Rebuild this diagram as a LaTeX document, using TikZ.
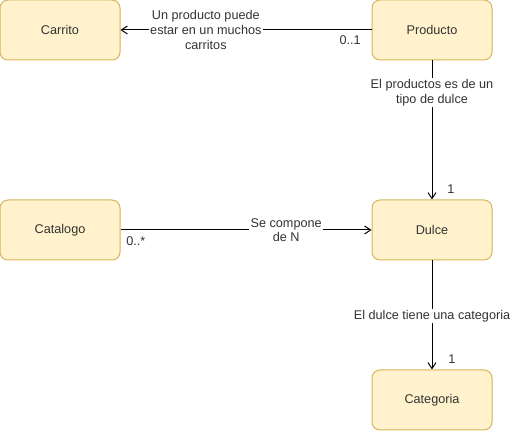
\documentclass[tikz,border=0pt]{standalone}
\usepackage{fontspec}
\setmainfont{Liberation Sans}
\usetikzlibrary{arrows.meta}
\definecolor{boxfill}{HTML}{FFF2CC}
\definecolor{boxline}{HTML}{D6B656}
\definecolor{textgray}{HTML}{333333}
\tikzset{
    entity/.style={
        draw=boxline,
        fill=boxfill,
        rounded corners=6pt,
        line width=0.75pt,
        minimum width=90pt,
        minimum height=45pt,
        inner sep=0,
        text=textgray,
        font=\fontsize{9.5}{10.9}\selectfont,
    },
    relation/.style={
        line width=0.75pt,
        -{Straight Barb[length=4.5pt,width=6pt]},
    },
    rolelabel/.style={
        fill=white,
        inner sep=1pt,
        align=center,
        text=textgray,
        font=\fontsize{9.5}{10.9}\selectfont,
    },
    multiplicity/.style={
        inner sep=0,
        text=textgray,
        font=\fontsize{9.5}{10.9}\selectfont,
    },
}
\begin{document}
\begin{tikzpicture}[x=0.75pt, y=-0.75pt]
            \useasboundingbox (0, 0) rectangle (512, 431);

            \node[entity] at (60, 30)   (carrito)   {Carrito};
            \node[entity] at (432, 30)  (producto)  {Producto};
            \node[entity] at (60, 230)  (catalogo)  {Catalogo};
            \node[entity] at (432, 230) (dulce)     {Dulce};
            \node[entity] at (432, 400) (categoria) {Categoria};

            \draw[relation] (producto) -- (carrito)
                node[rolelabel, pos=0.66] {Un producto puede\\estar en un muchos\\carritos};
            \draw[relation] (producto) -- (dulce)
                node[rolelabel, pos=0.23] {El productos es de un\\tipo de dulce};
            \draw[relation] (catalogo) -- (dulce)
                node[rolelabel, pos=0.66] {Se compone\\de N};
            \draw[relation] (dulce) -- (categoria)
                node[rolelabel, pos=0.51] {El dulce tiene una categoria};

            \node[multiplicity, anchor=east] at (361, 40)  (prodmult) {0..1};
            \node[multiplicity] at (451, 189) (dulcemult) {1};
            \node[multiplicity, anchor=west] at (126, 241) (catmult)  {0..*};
            \node[multiplicity] at (452, 359) (categmult) {1};
        \end{tikzpicture}
\end{document}
